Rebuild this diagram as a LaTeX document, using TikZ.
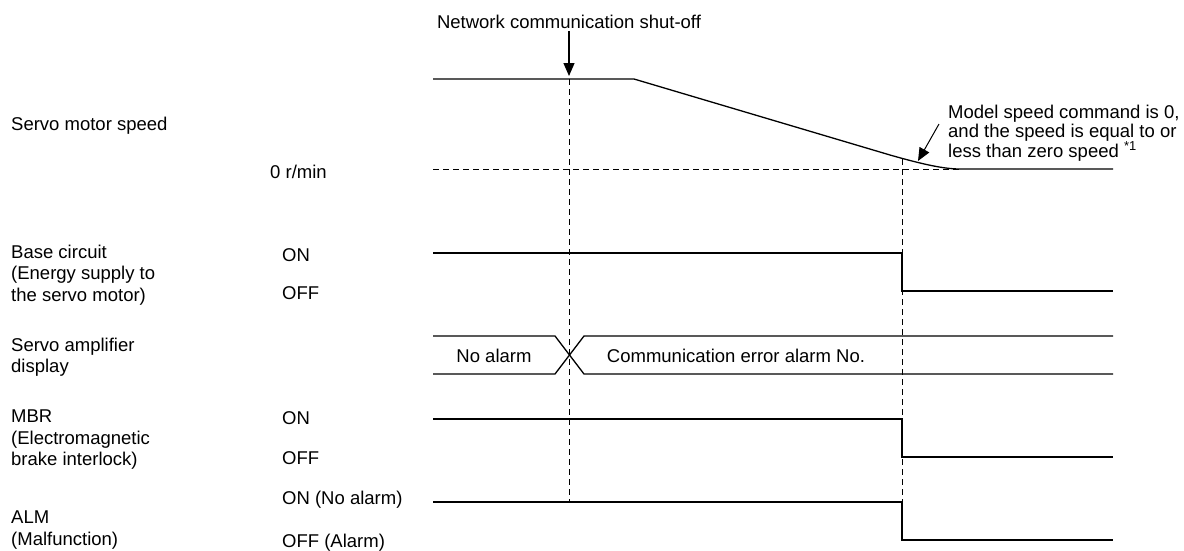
\documentclass[tikz,border=0pt]{standalone}
\usepackage{fontspec}
\setmainfont{Liberation Sans}
\usetikzlibrary{arrows.meta}

\begin{document}
\begin{tikzpicture}[
  x=1pt,y=-1pt,
  font=\fontsize{18.5}{21.5}\selectfont,
  lab/.style={anchor=west,inner sep=0pt,align=left},
  lvl/.style={anchor=west,inner sep=0pt},
  sig/.style={line width=1.3pt},
  guide/.style={line width=0.9pt,dash pattern=on 6pt off 4pt},
  arr/.style={-{Triangle[length=13pt,width=11pt]},line width=1.2pt}]
  \useasboundingbox (0,0) rectangle (1184,550);
  % row labels
  \node[lab] (spd) at (11,126) {Servo motor speed};
  \node[lab] (base) at (11,275) {Base circuit\\(Energy supply to\\the servo motor)};
  \node[lab] (disp) at (11,357) {Servo amplifier\\display};
  \node[lab] (mbr) at (11,440) {MBR\\(Electromagnetic\\brake interlock)};
  \node[lab] (alm) at (11,530) {ALM\\(Malfunction)};
  % levels
  \node[lvl] (zero) at (270,172) {0 r/min};
  \node[lvl] (baseon) at (282,255) {ON};
  \node[lvl] (baseoff) at (282,293) {OFF};
  \node[lvl] (mbron) at (282,418) {ON};
  \node[lvl] (mbroff) at (282,458) {OFF};
  \node[lvl] (almon) at (282,500) {ON (No alarm)};
  \node[lvl] (almoff) at (282,543) {OFF (Alarm)};
  % events
  \coordinate (shut) at (569,79);
  \coordinate (stop) at (902,159);
  \coordinate (zs) at (918,161);
  \coordinate (ns) at (939,124);
  \node[inner sep=2pt] (nw) at (569,22) {Network communication shut-off};
  \node[lab,font=\fontsize{18.5}{18.5}\selectfont] (note) at (948,133)
    {Model speed command is 0,\\and the speed is equal to or\\less than zero speed \textsuperscript{*1}};
  \draw[arr,shorten >=3pt] (nw.south)--(shut);
  \draw[arr,line width=1pt] (ns)--(zs);
  % guides
  \draw[guide] (433,169)--(960,169);
  \draw[guide] (shut)--(569,502);
  \draw[guide] (stop)--(902,540);
  % waveforms
  \draw[sig] (433,79)--(634,79)--(890,155) .. controls (925,165) and (945,169) .. (960,169)--(1113,169);
  \draw[sig] (433,253)--(902,253)--(902,291)--(1113,291);
  \draw[sig] (433,336)--(555,336)--(584,374)--(1113,374);
  \draw[sig] (433,374)--(555,374)--(584,336)--(1113,336);
  \node (noalarm) at (494,356) {No alarm};
  \node (commerr) at (736,356) {Communication error alarm No.};
  \draw[sig] (433,419)--(902,419)--(902,457)--(1113,457);
  \draw[sig] (433,502)--(902,502)--(902,540)--(1113,540);
\end{tikzpicture}
\end{document}
